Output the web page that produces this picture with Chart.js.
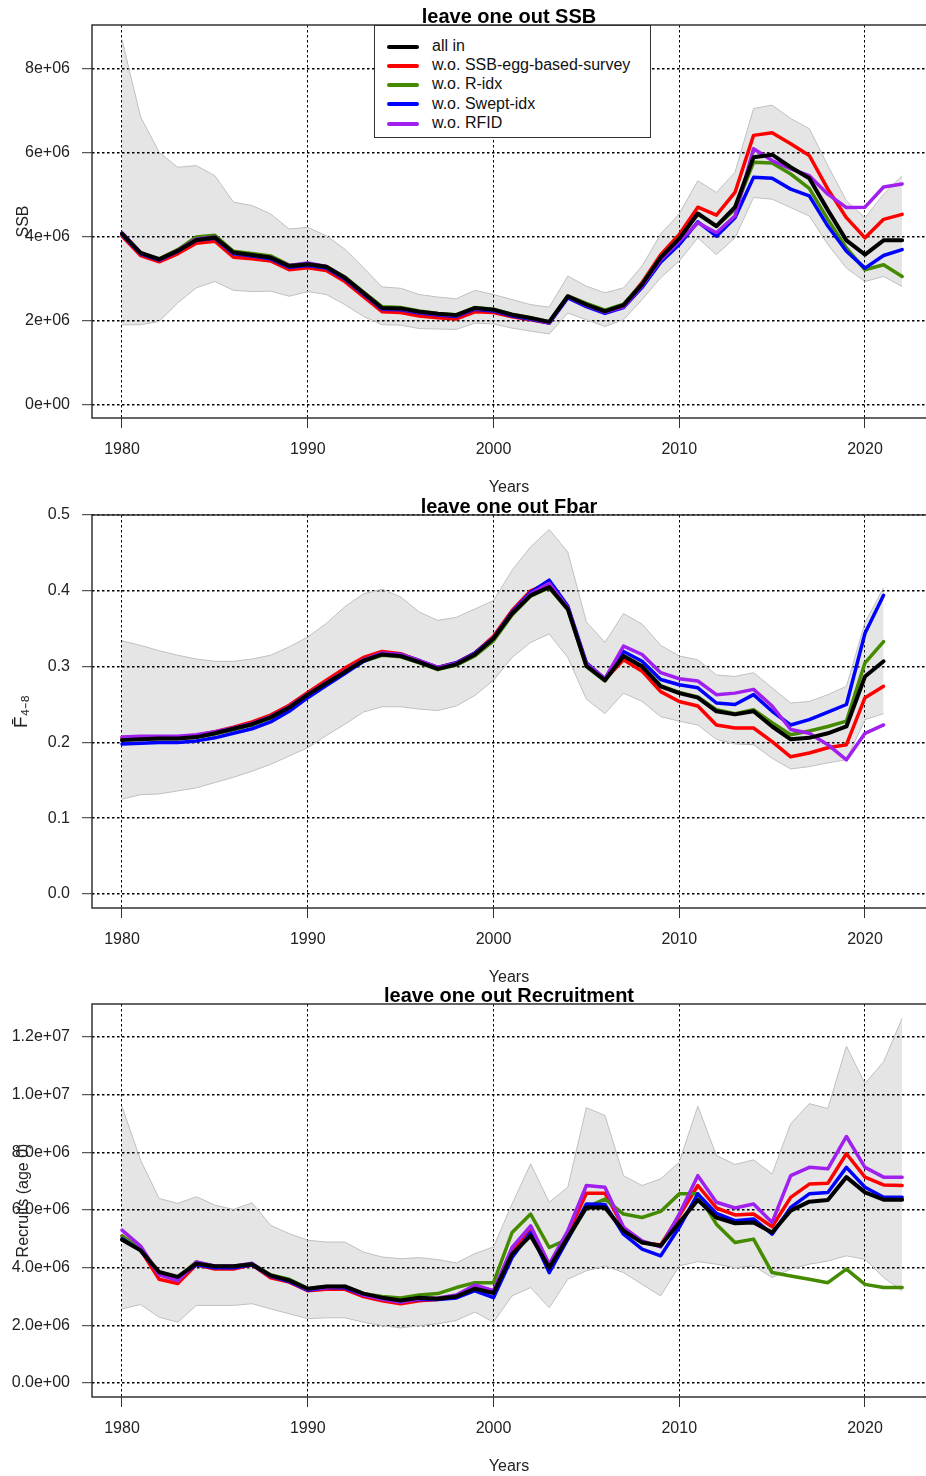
<!DOCTYPE html>
<html>
<head>
<meta charset="utf-8">
<script src="https://cdn.jsdelivr.net/npm/chart.js@4.4.0/dist/chart.umd.min.js"></script>
<style>
body{margin:0;background:#fff;width:926px;height:1476px;overflow:hidden;position:relative;font-family:"Liberation Sans",Arial,sans-serif}
.panel{position:absolute;left:0;width:926px;height:500px}
canvas{display:block}
#ssbLegend{position:absolute;left:374px;top:25px;width:275px;height:101px;border:1.5px solid #333;background:#fff;padding-top:10px;box-sizing:content-box;z-index:2}
.legend-row{height:19.2px;line-height:19.2px;font-size:16px;color:#111;white-space:nowrap}
.legend-line{display:inline-block;width:32px;height:4px;margin:0 13px 0 12px;vertical-align:middle;border-radius:2px}
</style>
</head>
<body>
<div class="panel" style="top:0"><canvas id="ssbChart" width="926" height="500"></canvas><div id="ssbLegend"></div></div>
<div class="panel" style="top:490px"><canvas id="fbarChart" width="926" height="500"></canvas></div>
<div class="panel" style="top:979px"><canvas id="recChart" width="926" height="500"></canvas></div>
<script>
// years on x, 1980..2022 (Fbar stops at 2021)
const years = Array.from({length:43},(_,i)=>1980+i);
const xTicks = [1980,1990,2000,2010,2020];

const seriesNames = ['all in','w.o. SSB-egg-based-survey','w.o. R-idx','w.o. Swept-idx','w.o. RFID'];
const seriesColors = ['#000000','#ff0000','#458b00','#0000ff','#a020f0'];

// SSB (millions)
const ssbAllIn = [4.08,3.62,3.47,3.67,3.93,3.99,3.63,3.57,3.51,3.31, 3.35,3.29,3.03,2.67,2.31,2.30,2.22,2.17,2.14,2.31, 2.27,2.15,2.07,1.98,2.59,2.39,2.23,2.38,2.87,3.51, 3.96,4.56,4.26,4.71,5.90,5.96,5.66,5.40,4.64,3.92, 3.58,3.92,3.92];
const ssbNoEgg = [4.02,3.56,3.41,3.60,3.85,3.90,3.52,3.48,3.43,3.22, 3.27,3.20,2.94,2.58,2.22,2.20,2.12,2.08,2.05,2.22, 2.20,2.10,2.03,1.95,2.57,2.38,2.22,2.38,2.92,3.58, 4.06,4.71,4.52,5.06,6.42,6.48,6.22,5.94,5.14,4.46, 3.98,4.42,4.54];
const ssbNoRidx = [4.08,3.63,3.48,3.70,4.00,4.04,3.66,3.61,3.55,3.33, 3.36,3.30,3.05,2.69,2.34,2.32,2.24,2.18,2.15,2.32, 2.28,2.16,2.08,1.98,2.60,2.42,2.26,2.40,2.89,3.52, 3.97,4.54,4.25,4.66,5.78,5.76,5.50,5.16,4.42,3.74, 3.22,3.34,3.06];
const ssbNoSwept = [4.06,3.60,3.45,3.66,3.92,3.97,3.60,3.55,3.48,3.28, 3.32,3.26,3.00,2.64,2.28,2.27,2.19,2.14,2.11,2.28, 2.24,2.12,2.04,1.95,2.55,2.34,2.18,2.32,2.80,3.40, 3.82,4.36,4.02,4.46,5.42,5.40,5.14,4.98,4.26,3.66, 3.26,3.56,3.70];
const ssbNoRfid = [4.10,3.62,3.46,3.68,3.95,4.00,3.62,3.57,3.51,3.32, 3.38,3.30,3.03,2.66,2.30,2.29,2.21,2.16,2.13,2.30, 2.26,2.14,2.06,1.96,2.58,2.37,2.21,2.34,2.84,3.46, 3.90,4.34,4.10,4.50,6.10,5.82,5.62,5.46,5.02,4.70, 4.71,5.19,5.26];
const ssbHi = [8.70,6.86,6.02,5.66,5.70,5.46,4.83,4.75,4.55,4.19, 4.23,4.03,3.71,3.27,2.81,2.78,2.63,2.57,2.53,2.73, 2.63,2.51,2.39,2.33,3.07,2.83,2.67,2.79,3.31,4.07, 4.55,5.34,5.06,5.54,7.06,7.14,6.82,6.58,5.70,4.86, 4.46,5.02,5.46];
const ssbLo = [1.91,1.91,1.99,2.43,2.79,2.94,2.73,2.70,2.71,2.59, 2.70,2.63,2.39,2.11,1.91,1.90,1.82,1.81,1.80,1.95, 1.93,1.83,1.76,1.69,2.19,2.03,1.87,2.03,2.51,3.03, 3.43,3.98,3.58,3.98,4.94,4.90,4.70,4.50,3.82,3.26, 2.94,3.06,2.82];
const ssbTicks = [0,2,4,6,8];
const ssbTickLabels = ['0e+00','2e+06','4e+06','6e+06','8e+06'];

// Fbar 4-8
const fbarAllIn = [.203,.204,.205,.205,.207,.212,.218,.224,.233,.246, .263,.278,.293,.308,.316,.314,.306,.297,.303,.316, .337,.370,.394,.405,.376,.301,.282,.314,.300,.274, .265,.259,.241,.237,.241,.221,.204,.206,.212,.221, .287,.307];
const fbarNoEgg = [.206,.207,.207,.207,.209,.214,.220,.227,.236,.249, .266,.282,.298,.312,.320,.317,.308,.299,.305,.318, .340,.374,.400,.410,.378,.302,.283,.309,.294,.267, .254,.248,.223,.219,.219,.201,.181,.186,.193,.197, .259,.274];
const fbarNoRidx = [.204,.205,.205,.205,.207,.211,.217,.223,.232,.245, .262,.277,.292,.307,.315,.313,.305,.296,.302,.314, .334,.368,.393,.404,.375,.300,.281,.314,.301,.275, .266,.260,.243,.238,.243,.226,.210,.215,.221,.228, .305,.333];
const fbarNoSwept = [.198,.199,.200,.200,.202,.206,.212,.218,.227,.241, .259,.275,.291,.307,.317,.316,.308,.299,.305,.318, .338,.372,.398,.414,.380,.305,.284,.320,.307,.283, .276,.272,.252,.250,.263,.241,.223,.230,.240,.250, .344,.394];
const fbarNoRfid = [.207,.208,.208,.208,.210,.214,.219,.225,.234,.247, .264,.279,.294,.309,.318,.316,.308,.299,.304,.317, .338,.371,.396,.410,.378,.304,.284,.327,.316,.292, .284,.281,.263,.265,.270,.248,.217,.212,.197,.177, .212,.223];
const fbarHi = [.334,.328,.321,.315,.310,.307,.307,.310,.315,.326, .339,.357,.379,.396,.402,.392,.372,.361,.365,.376, .387,.427,.458,.481,.451,.359,.332,.370,.356,.328, .314,.309,.289,.287,.292,.272,.252,.254,.263,.274, .358,.404];
const fbarLo = [.125,.131,.132,.136,.140,.147,.154,.162,.171,.182, .193,.209,.224,.240,.247,.247,.244,.242,.248,.262, .282,.312,.332,.343,.312,.257,.238,.265,.254,.234, .228,.223,.204,.198,.197,.179,.165,.168,.173,.177, .230,.238];
const fbarTicks = [0,0.1,0.2,0.3,0.4,0.5];
const fbarTickLabels = ['0.0','0.1','0.2','0.3','0.4','0.5'];

// Recruitment age 0 (millions)
const recAllIn = [4.97,4.60,3.85,3.68,4.14,4.05,4.05,4.12,3.73,3.56, 3.27,3.35,3.35,3.10,2.96,2.86,2.96,2.92,3.00,3.27, 3.12,4.47,5.11,4.00,5.05,6.09,6.09,5.28,4.87,4.76, 5.57,6.35,5.74,5.54,5.57,5.22,5.98,6.29,6.35,7.14, 6.61,6.36,6.36];
const recNoEgg = [5.10,4.62,3.60,3.45,4.10,3.95,3.95,4.10,3.65,3.50, 3.20,3.25,3.25,3.00,2.85,2.75,2.85,2.90,3.00,3.30, 3.15,4.64,5.28,4.06,5.16,6.58,6.58,5.40,4.87,4.79, 5.80,6.85,6.07,5.83,5.86,5.42,6.44,6.90,6.93,7.95, 7.14,6.87,6.85];
const recNoRidx = [5.10,4.65,3.80,3.65,4.20,4.05,4.05,4.12,3.75,3.60, 3.28,3.35,3.35,3.10,3.00,2.95,3.05,3.10,3.31,3.48, 3.48,5.22,5.86,4.70,4.99,6.09,6.38,5.86,5.74,5.95, 6.56,6.56,5.51,4.87,4.99,3.83,3.71,3.60,3.48,3.95, 3.42,3.31,3.31];
const recNoSwept = [5.00,4.60,3.80,3.65,4.10,4.00,4.00,4.10,3.70,3.52, 3.22,3.30,3.30,3.05,2.92,2.84,2.90,2.90,2.95,3.20, 2.96,4.35,5.22,3.83,4.99,6.21,6.19,5.16,4.64,4.41, 5.40,6.56,5.88,5.63,5.69,5.16,6.09,6.56,6.61,7.48, 6.79,6.44,6.44];
const recNoRfid = [5.30,4.75,3.75,3.55,4.20,4.05,4.05,4.15,3.70,3.55, 3.25,3.30,3.35,3.05,2.90,2.80,2.92,2.95,3.05,3.40, 3.20,4.70,5.45,4.12,5.28,6.85,6.79,5.40,4.93,4.72, 5.86,7.19,6.27,6.07,6.21,5.57,7.19,7.48,7.43,8.55, 7.48,7.14,7.14];
const recHi = [9.59,7.73,6.40,6.23,6.46,6.17,6.02,6.25,5.47,5.18, 4.95,4.89,4.89,4.54,4.37,4.31,4.35,4.28,4.16,4.49, 4.72,6.21,7.60,6.27,6.79,9.55,9.28,7.19,6.85,7.08, 7.66,9.60,7.89,7.58,7.74,7.25,8.99,9.69,9.52,11.68, 10.39,11.14,12.65];
const recLo = [2.57,2.72,2.28,2.11,2.69,2.69,2.69,2.75,2.57,2.40, 2.23,2.26,2.26,2.11,1.99,1.91,1.99,2.05,2.17,2.46, 2.11,3.02,3.31,2.61,3.60,3.89,4.06,3.83,3.42,3.02, 4.06,4.21,4.12,4.00,4.06,3.66,3.95,4.12,4.23,4.41, 4.29,3.66,3.19];
const recTicks = [0,2,4,6,8,10,12];
const recTickLabels = ['0.0e+00','2.0e+06','4.0e+06','6.0e+06','8.0e+06','1.0e+07','1.2e+07'];

Chart.defaults.font.family = '"Liberation Sans", Arial, sans-serif';
Chart.defaults.color = '#222';

// box around the plot region (right side runs off the picture)
const framePlugin = {
  id:'frame',
  afterDraw(chart){
    const {ctx, chartArea:a} = chart;
    ctx.save();
    ctx.strokeStyle = '#333'; ctx.lineWidth = 1.5;
    ctx.beginPath();
    ctx.moveTo(a.right+2, a.top); ctx.lineTo(a.left, a.top);
    ctx.lineTo(a.left, a.bottom); ctx.lineTo(a.right+2, a.bottom);
    ctx.stroke();
    ctx.restore();
  }
};

function makePanel(canvasId, p){
  const pts = arr => arr.map((v,i)=>({x:years[i], y:v}));
  const lines = p.series.map((s,k)=>({
    label:seriesNames[k], data:pts(s), borderColor:seriesColors[k], backgroundColor:seriesColors[k],
    borderWidth: k===0 ? 4 : 3.5, pointRadius:0, tension:0, fill:false,
    borderCapStyle:'round', borderJoinStyle:'round', order: k===0 ? 0 : 5-k
  }));
  const band = [
    {label:'upper', data:pts(p.hi), borderColor:'#c0c0c0', borderWidth:1, backgroundColor:'#e5e5e5', fill:'+1', pointRadius:0, tension:0, order:10},
    {label:'lower', data:pts(p.lo), borderColor:'#c0c0c0', borderWidth:1, fill:false, pointRadius:0, tension:0, order:11}
  ];
  return new Chart(document.getElementById(canvasId), {
    type:'line',
    data:{datasets:[...lines, ...band]},
    plugins:[framePlugin],
    options:{
      responsive:false, animation:false, devicePixelRatio:1,
      layout:{padding:{top:0,left:0,right:0,bottom:2.4}},
      plugins:{
        legend:{display:false}, tooltip:{enabled:false},
        filler:{propagate:false, drawTime:'beforeDraw'},
        title:{display:true, text:p.title, fullSize:false, color:'#000',
          font:{size:20, weight:'bold', lineHeight:0.72}, padding:{top:10.6,bottom:0}}
      },
      scales:{
        x:{
          type:'linear', min:1978.385, max:2023.284,
          afterBuildTicks: s => { s.ticks = xTicks.map(v=>({value:v})); },
          afterFit: s => { s.height = 79.6; },
          ticks:{callback:v=>String(v), font:{size:16}, padding:12, maxRotation:0, autoSkip:false},
          grid:{color:'#000', lineWidth:1, tickLength:10, tickColor:'#333', tickWidth:1},
          border:{display:false, dash:[2.5,2.5]},
          title:{display:true, text:'Years', font:{size:16}, padding:{top:0,bottom:0}}
        },
        y:{
          min:p.yMin, max:p.yMax,
          afterBuildTicks: s => { s.ticks = p.ticks.map(v=>({value:v})); },
          afterFit: s => { s.width = 92; },
          ticks:{callback:(v,i)=>p.tickLabels[i], font:{size:16}, padding:12, autoSkip:false},
          grid:{color:'#000', lineWidth:1.4, tickLength:10, tickColor:'#333', tickWidth:1},
          border:{display:false, dash:[2.5,2.5]},
          title:{display:true, text:p.yTitle, font:{size:p.yTitleSize || 16},
            padding:{top:p.yTitlePad || 14.4, bottom:0}}
        }
      }
    }
  });
}

// HTML legend, same idea as a simple custom legend
function makeLegend(chart, containerId){
  const box = document.getElementById(containerId);
  box.innerHTML = chart.data.datasets.slice(0,5).map(ds =>
    `<div class="legend-row"><span class="legend-line" style="background:${ds.borderColor}"></span>${ds.label}</div>`).join('');
}

const ssbChart = makePanel('ssbChart', {
  title:'leave one out SSB', yTitle:'SSB',
  series:[ssbAllIn, ssbNoEgg, ssbNoRidx, ssbNoSwept, ssbNoRfid], hi:ssbHi, lo:ssbLo,
  yMin:-0.3095, yMax:9.0476, ticks:ssbTicks, tickLabels:ssbTickLabels
});
makeLegend(ssbChart, 'ssbLegend');

makePanel('fbarChart', {
  title:'leave one out Fbar', yTitle:'F\u0304\u2084\u208B\u2088', yTitleSize:19, yTitlePad:10.5,
  series:[fbarAllIn, fbarNoEgg, fbarNoRidx, fbarNoSwept, fbarNoRfid], hi:fbarHi, lo:fbarLo,
  yMin:-0.01847, yMax:0.5, ticks:fbarTicks, tickLabels:fbarTickLabels
});

makePanel('recChart', {
  title:'leave one out Recruitment', yTitle:'Recruits (age 0)',
  series:[recAllIn, recNoEgg, recNoRidx, recNoSwept, recNoRfid], hi:recHi, lo:recLo,
  yMin:-0.4856, yMax:13.145, ticks:recTicks, tickLabels:recTickLabels
});
</script>
</body>
</html>
